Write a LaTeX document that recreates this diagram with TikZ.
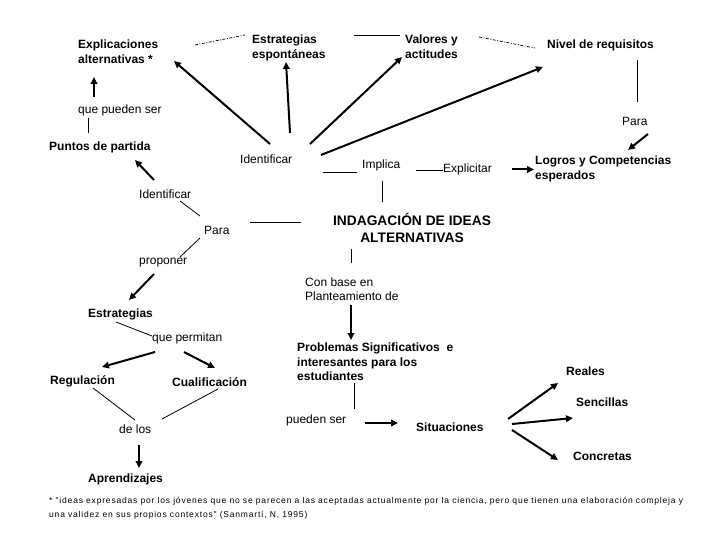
\documentclass[tikz,border=0pt]{standalone}
\usepackage{fontspec}
\setmainfont{Liberation Sans}
\newfontfamily\footfont[LetterSpace=9.5]{Liberation Sans}
\usetikzlibrary{arrows.meta}
\begin{document}
\begin{tikzpicture}[x=1pt,y=-1pt,
  lbl/.style={anchor=base west,inner sep=0pt,font=\fontsize{12}{14.5}\selectfont},
  cpt/.style={anchor=base west,inner sep=0pt,font=\fontsize{12}{14.5}\selectfont\bfseries},
  arr/.style={line width=2pt,-{Triangle[length=7pt,width=6.5pt]}},
  lnk/.style={line width=0.8pt},
  dsh/.style={line width=0.7pt,dash pattern=on 3pt off 1.5pt on 1pt off 1.5pt}]
\fill[white] (0,0) rectangle (720,540);
\useasboundingbox (0,0) rectangle (720,540);
% nodes
\node[cpt] (ex) at (78,49) {\begin{tabular}[t]{@{}l@{}}Explicaciones\\alternativas *\end{tabular}};
\node[cpt] (ee) at (252,44) {\begin{tabular}[t]{@{}l@{}}Estrategias\\espontáneas\end{tabular}};
\node[cpt] (va) at (405,44) {\begin{tabular}[t]{@{}l@{}}Valores y\\actitudes\end{tabular}};
\node[cpt] (ni) at (547,49) {Nivel de requisitos};
\node[lbl] (qp) at (78,114) {que pueden ser};
\node[cpt] (pp) at (49,151) {Puntos de partida};
\node[lbl] (id1) at (240,164) {Identificar};
\node[lbl] (im) at (362,168.5) {Implica};
\node[lbl] (xp) at (443,173) {Explicitar};
\node[cpt] (lo) at (535,165) {\begin{tabular}[t]{@{}l@{}}Logros y Competencias\\esperados\end{tabular}};
\node[lbl] (pa1) at (622,126) {Para};
\node[lbl] (id2) at (139,199) {Identificar};
\node[lbl] (pa2) at (204,234) {Para};
\node[cpt,anchor=base,font=\fontsize{13.8}{16.5}\selectfont\bfseries] (in) at (412,225.7) {\begin{tabular}[t]{@{}c@{}}INDAGACIÓN DE IDEAS\\ALTERNATIVAS\end{tabular}};
\node[lbl] (pr) at (139,264) {proponer};
\node[lbl] (cb) at (305,286) {\begin{tabular}[t]{@{}l@{}}Con base en\\Planteamiento de\end{tabular}};
\node[cpt] (es) at (88,317) {Estrategias};
\node[lbl] (qm) at (152,341.5) {que permitan};
\node[cpt] (re) at (50,384) {Regulación};
\node[cpt] (cu) at (172,386) {Cualificación};
\node[cpt] (pb) at (297,351.5) {\begin{tabular}[t]{@{}l@{}}Problemas Significativos~~e\\interesantes para los\\estudiantes\end{tabular}};
\node[cpt] (rl) at (566,375.5) {Reales};
\node[cpt] (se) at (576,406) {Sencillas};
\node[cpt] (si) at (416,431) {Situaciones};
\node[cpt] (co) at (573,460) {Concretas};
\node[lbl] (ps) at (286,423) {pueden ser};
\node[lbl] (dl) at (119,433) {de los};
\node[cpt] (ap) at (88,482.5) {Aprendizajes};
\node[lbl,font=\fontsize{8.5}{14}\footfont] (fn) at (49,503.3) {\begin{tabular}[t]{@{}l@{}}* "ideas expresadas por los jóvenes que no se parecen a las aceptadas actualmente por la ciencia, pero que tienen una elaboración compleja y\\una validez en sus propios contextos" (Sanmartí, N, 1995)\end{tabular}};
% connectors
\draw[dsh] ([shift={(117,-4)}]ex.base west) -- ([shift={(-7,-9)}]ee.base west);
\draw[lnk] ([shift={(102,-9)}]ee.base west) -- ([shift={(-5,-9)}]va.base west);
\draw[dsh] ([shift={(74,-7)}]va.base west) -- ([shift={(-12,-1)}]ni.base west);
\draw[lnk] ([shift={(90,11)}]ni.base west) -- ([shift={(15,-24)}]pa1.base west);
\draw[arr] ([shift={(26,8)}]pa1.base west) -- ([shift={(93,-15)}]lo.base west);
\draw[lnk] ([shift={(54,2)}]im.base west) -- ([shift={(0,-2.5)}]xp.base west);
\draw[arr] ([shift={(69,-3.5)}]xp.base west) -- ([shift={(-1,4.5)}]lo.base west);
\draw[lnk] ([shift={(83,8.5)}]id1.base west) -- ([shift={(-5,4)}]im.base west);
\draw[lnk] ([shift={(20,12.5)}]im.base west) -- ([shift={(-30,-23.7)}]in.base);
\draw[arr] ([shift={(30,-20)}]id1.base west) -- ([shift={(96,12)}]ex.base west);
\draw[arr] ([shift={(50,-31)}]id1.base west) -- ([shift={(34,18)}]ee.base west);
\draw[arr] ([shift={(70,-20)}]id1.base west) -- ([shift={(-3,13)}]va.base west);
\draw[arr] ([shift={(81,-9)}]id1.base west) -- ([shift={(-4,18)}]ni.base west);
\draw[lnk] ([shift={(10,4)}]qp.base west) -- ([shift={(39,-18)}]pp.base west);
\draw[arr] ([shift={(16,-17)}]qp.base west) -- ([shift={(16,28)}]ex.base west);
\draw[arr] ([shift={(15,-19)}]id2.base west) -- ([shift={(86,9)}]pp.base west);
\draw[lnk] ([shift={(41,2)}]id2.base west) -- ([shift={(-4,-18)}]pa2.base west);
\draw[lnk] ([shift={(-4,4)}]pa2.base west) -- ([shift={(41,-7)}]pr.base west);
\draw[lnk] ([shift={(46,-12)}]pa2.base west) -- ([shift={(-111,-3.7)}]in.base);
\draw[lnk] ([shift={(-61,23.3)}]in.base) -- ([shift={(46,-23)}]cb.base west);
\draw[arr] ([shift={(46,19)}]cb.base west) -- ([shift={(54,-11.5)}]pb.base west);
\draw[lnk] ([shift={(57,31.5)}]pb.base west) -- ([shift={(68,-14)}]ps.base west);
\draw[arr] ([shift={(79,0)}]ps.base west) -- ([shift={(-18,-8)}]si.base west);
\draw[arr] ([shift={(92,-12)}]si.base west) -- ([shift={(-8,7.5)}]rl.base west);
\draw[arr] ([shift={(96,-7)}]si.base west) -- ([shift={(-3,12)}]se.base west);
\draw[arr] ([shift={(96,-1)}]si.base west) -- ([shift={(-15,0)}]co.base west);
\draw[arr] ([shift={(15,10)}]pr.base west) -- ([shift={(41,-17)}]es.base west);
\draw[lnk] ([shift={(28,5)}]es.base west) -- ([shift={(0,-5.5)}]qm.base west);
\draw[arr] ([shift={(3,10.5)}]qm.base west) -- ([shift={(52,-17)}]re.base west);
\draw[arr] ([shift={(32,10.5)}]qm.base west) -- ([shift={(43,-18)}]cu.base west);
\draw[lnk] ([shift={(43,4)}]re.base west) -- ([shift={(16,-13)}]dl.base west);
\draw[lnk] ([shift={(46,3)}]cu.base west) -- ([shift={(43,-14)}]dl.base west);
\draw[arr] ([shift={(20,12)}]dl.base west) -- ([shift={(51,-14.5)}]ap.base west);
\end{tikzpicture}
\end{document}
